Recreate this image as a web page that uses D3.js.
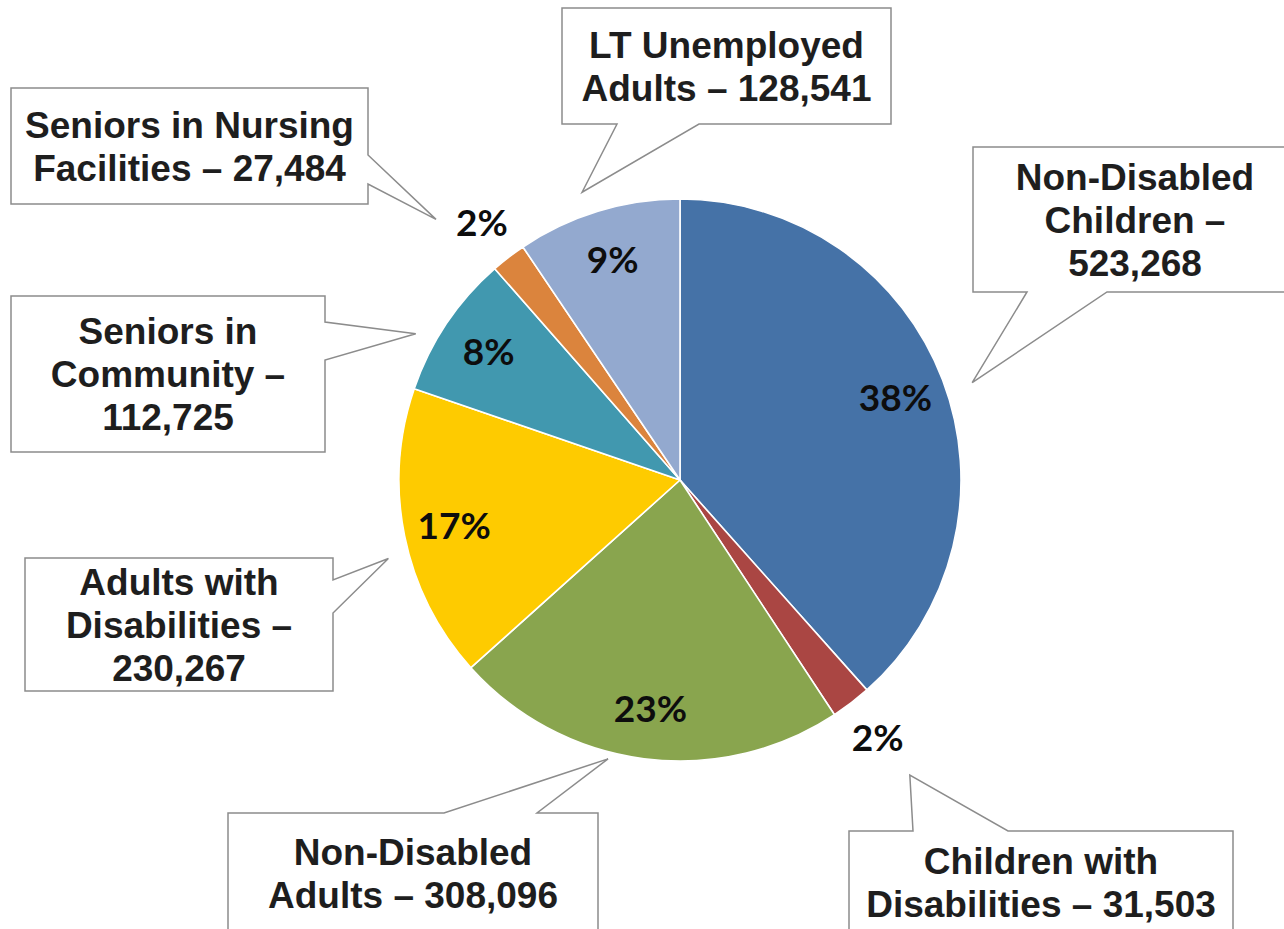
<!DOCTYPE html>
<html>
<head>
<meta charset="utf-8">
<script src="https://cdn.jsdelivr.net/npm/d3@7"></script>
<style>
  html, body { margin: 0; padding: 0; background: #ffffff; }
  svg { display: block; }
</style>
</head>
<body>
<svg id="chart" width="1284" height="929"></svg>
<script>
// Enrollment by eligibility group
const categories = [
  "Non-Disabled Children",
  "Children with Disabilities",
  "Non-Disabled Adults",
  "Adults with Disabilities",
  "Seniors in Community",
  "Seniors in Nursing Facilities",
  "LT Unemployed Adults"
];
const enrollment = [523268, 31503, 308096, 230267, 112725, 27484, 128541];
const sliceColors = ["#4572A7", "#AA4643", "#89A54E", "#FECB00", "#4198AF", "#DB843D", "#93A9CF"];

// How many words go on each line of every callout's text
const lineBreaks = [[1, 2, 1], [2, 3], [1, 3], [2, 2, 1], [2, 2, 1], [3, 3], [2, 3]];

// Callout boxes: rectangle, side carrying the pointer, pointer base along that side,
// and the pointer tip as (offset from slice mid-angle in degrees, distance from centre)
const callouts = [
  { box: [973, 147, 1297, 292], side: "bottom", base: [1027, 1107], tip: [2.4, 308] },
  { box: [849, 831, 1233, 933], side: "top",    base: [913, 1008],  tip: [-0.4, 374] },
  { box: [228, 813, 598, 934],  side: "top",    base: [444, 537],   tip: [7.1, 288] },
  { box: [25, 558, 333, 691],   side: "right",  base: [580, 613],   tip: [-3.6, 302] },
  { box: [11, 296, 325, 452],   side: "right",  base: [322, 360],   tip: [-4.9, 302] },
  { box: [11, 88, 368, 204],    side: "right",  base: [155, 184],   tip: [-5.5, 357] },
  { box: [562, 8, 891, 124],    side: "bottom", base: [617, 699],   tip: [-1.8, 304] }
];

const width = 1284, height = 929;
const cx = 680, cy = 480, R = 281;
const svg = d3.select("#chart");

const total = d3.sum(enrollment);
const data = categories.map((name, i) => ({ name, value: enrollment[i], color: sliceColors[i], i }));

const pie = d3.pie().sort(null).value(d => d.value).startAngle(0).endAngle(2 * Math.PI);
const arcs = pie(data);

const arc = d3.arc().innerRadius(0).outerRadius(R);
const insideLabelArc = d3.arc().innerRadius(R * 0.82).outerRadius(R * 0.82);
const outsideLabelArc = d3.arc().innerRadius(R * 1.155).outerRadius(R * 1.155);

const g = svg.append("g").attr("transform", `translate(${cx},${cy})`);

g.selectAll("path.slice")
  .data(arcs)
  .join("path")
  .attr("class", "slice")
  .attr("d", arc)
  .attr("fill", d => d.data.color)
  .attr("stroke", "#ffffff")
  .attr("stroke-width", 1.6)
  .attr("stroke-linejoin", "round");

// Percentage labels: inside large slices, just outside the thin ones
const pct = d => Math.round(d.data.value / total * 100) + "%";
g.selectAll("text.pct")
  .data(arcs)
  .join("text")
  .attr("class", "pct")
  .attr("transform", d => {
    const share = d.data.value / total;
    const p = (share < 0.05 ? outsideLabelArc : insideLabelArc).centroid(d);
    return `translate(${p[0]},${p[1]})`;
  })
  .attr("text-anchor", "middle")
  .attr("dy", "0.36em")
  .attr("font-family", "Lato, 'Open Sans', sans-serif")
  .attr("font-weight", 700)
  .attr("font-size", 37)
  .attr("fill", "#0d0d0d")
  .text(pct);

// Callouts
const fmt = d3.format(",");
const fontSize = 37, lineHeight = 43;

function calloutPath(c, tip) {
  const [x0, y0, x1, y1] = c.box;
  const [b1, b2] = c.base;
  const p = d3.path();
  p.moveTo(x0, y0);
  if (c.side === "top") { p.lineTo(b1, y0); p.lineTo(tip[0], tip[1]); p.lineTo(b2, y0); }
  p.lineTo(x1, y0);
  if (c.side === "right") { p.lineTo(x1, b1); p.lineTo(tip[0], tip[1]); p.lineTo(x1, b2); }
  p.lineTo(x1, y1);
  if (c.side === "bottom") { p.lineTo(b2, y1); p.lineTo(tip[0], tip[1]); p.lineTo(b1, y1); }
  p.lineTo(x0, y1);
  p.closePath();
  return p.toString();
}

const calloutLayer = svg.append("g");
arcs.forEach((d, i) => {
  const c = callouts[i];
  const mid = (d.startAngle + d.endAngle) / 2 + c.tip[0] * Math.PI / 180;
  const tip = [cx + c.tip[1] * Math.sin(mid), cy - c.tip[1] * Math.cos(mid)];

  const cg = calloutLayer.append("g");
  cg.append("path")
    .attr("d", calloutPath(c, tip))
    .attr("fill", "#ffffff")
    .attr("stroke", "#8c8c8c")
    .attr("stroke-width", 1.5)
    .attr("stroke-linejoin", "miter");

  const words = `${d.data.name} – ${fmt(d.data.value)}`.split(" ");
  const lines = [];
  let k = 0;
  lineBreaks[i].forEach(n => { lines.push(words.slice(k, k + n).join(" ")); k += n; });

  const [x0, y0, x1, y1] = c.box;
  const tx = (x0 + x1) / 2, ty = (y0 + y1) / 2;
  const text = cg.append("text")
    .attr("text-anchor", "middle")
    .attr("font-family", "'Liberation Sans', Arial, sans-serif")
    .attr("font-weight", 700)
    .attr("font-size", fontSize)
    .attr("fill", "#1e1e1e");
  lines.forEach((line, j) => {
    text.append("tspan")
      .attr("x", tx)
      .attr("y", ty + (j - (lines.length - 1) / 2) * lineHeight + fontSize * 0.36)
      .text(line);
  });
});
</script>
</body>
</html>
